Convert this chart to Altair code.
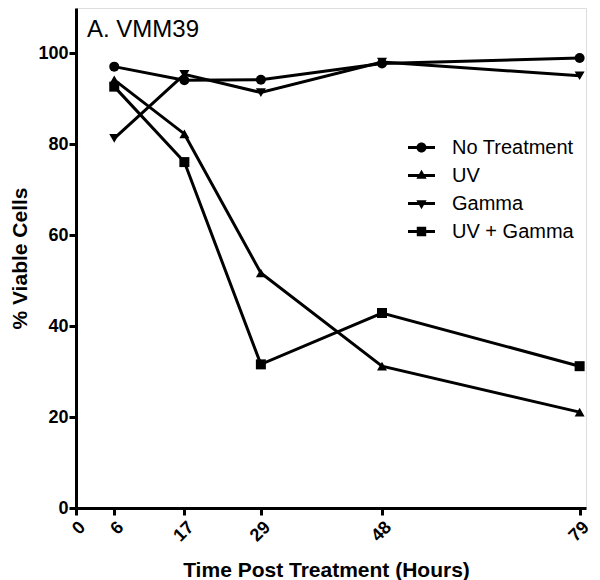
import altair as alt
import pandas as pd

hours = [6, 17, 29, 48, 79]
series_names = ["No Treatment", "UV", "Gamma", "UV + Gamma"]
no_treatment = [97.1, 94.1, 94.2, 97.8, 99.0]
uv = [94.2, 82.3, 51.7, 31.2, 21.1]
gamma = [81.3, 95.4, 91.4, 98.1, 95.1]
uv_gamma = [92.7, 76.1, 31.6, 42.9, 31.2]
x_ticks = [0, 6, 17, 29, 48, 79]
y_ticks = [0, 20, 40, 60, 80, 100]
panel_title = "A. VMM39"

rows = []
for name, vals in zip(series_names, [no_treatment, uv, gamma, uv_gamma]):
    for h, v in zip(hours, vals):
        rows.append({"hours": h, "viable": v, "series": name})
df = pd.DataFrame(rows)

FONT = "Liberation Sans"

x_enc = alt.X(
    "hours:Q",
    scale=alt.Scale(domain=[0, 80], nice=False, zero=False),
    axis=alt.Axis(
        values=x_ticks, title="Time Post Treatment (Hours)", labelAngle=-45,
        labelAlign="right", labelBaseline="top", labelPadding=3,
        labelFont=FONT, labelFontSize=18, labelFontWeight="bold",
        titleFont=FONT, titleFontSize=21, titleFontWeight="bold",
        titleX=250, titleY=68, titleBaseline="alphabetic",
        domainWidth=3, domainColor="black", tickWidth=3, tickColor="black",
        tickSize=7, grid=False, labelColor="black", titleColor="black",
    ),
)
y_enc = alt.Y(
    "viable:Q",
    scale=alt.Scale(domain=[0, 110], nice=False),
    axis=alt.Axis(
        values=y_ticks, title="% Viable Cells",
        labelFont=FONT, labelFontSize=18, labelFontWeight="bold", labelPadding=1,
        titleFont=FONT, titleFontSize=21, titleFontWeight="bold",
        titleX=-56, titleY=250, titleBaseline="middle", titleAngle=-90,
        domainWidth=3, domainColor="black", tickWidth=3, tickColor="black",
        tickSize=7, grid=False, labelColor="black", titleColor="black",
    ),
)

base = alt.Chart(df)

lines = base.mark_line(color="black", strokeWidth=3).encode(
    x=x_enc, y=y_enc, detail="series:N"
)

points = base.mark_point(filled=True, color="black", opacity=1, size=100).encode(
    x=x_enc, y=y_enc,
    shape=alt.Shape(
        "series:N",
        scale=alt.Scale(domain=series_names,
                        range=["circle", "triangle-up", "triangle-down", "square"]),
        legend=None,
    ),
)

BAR = "M-1,-0.11H1V0.11H-1Z"
legend_paths = [
    BAR + "M0.37,0A0.37,0.37,0,1,1,-0.37,0A0.37,0.37,0,1,1,0.37,0Z",
    BAR + "M0,-0.42L0.38,0.24L-0.38,0.24Z",
    BAR + "M0,0.42L-0.38,-0.24L0.38,-0.24Z",
    BAR + "M-0.35,-0.35H0.35V0.35H-0.35Z",
]

legend_layer = base.mark_point(filled=True, color="black", opacity=0).encode(
    x=x_enc, y=y_enc,
    shape=alt.Shape(
        "series:N",
        scale=alt.Scale(domain=series_names, range=legend_paths),
        legend=alt.Legend(
            title=None, orient="none", legendX=331, legendY=125, padding=0,
            symbolSize=729, symbolOpacity=1, symbolFillColor="black",
            labelFont=FONT, labelFontSize=20, labelColor="black",
            labelOffset=16, rowPadding=3,
        ),
    ),
)

title_df = pd.DataFrame({"t": [panel_title]})
title_layer = alt.Chart(title_df).mark_text(
    align="left", baseline="alphabetic", font=FONT, fontSize=24, color="black"
).encode(x=alt.value(11), y=alt.value(29), text="t:N")

chart = alt.layer(lines, points, legend_layer, title_layer).resolve_scale(
    shape="independent"
).properties(
    width=510, height=500,
    autosize=alt.AutoSizeParams(type="none"),
    padding={"left": 68, "top": 0, "right": 6, "bottom": 72},
).configure_view(stroke=None).configure(background="white")

chart.save("out.html", embed_options={"renderer": "svg", "actions": False})
